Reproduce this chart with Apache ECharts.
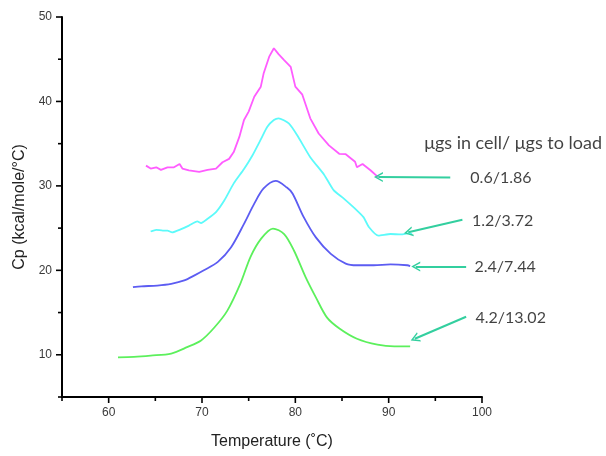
<!DOCTYPE html>
<html><head><meta charset="utf-8">
<script src="https://cdn.jsdelivr.net/npm/echarts@6/dist/echarts.min.js"></script>
<style>html,body{margin:0;padding:0;background:#fff}#c{width:606px;height:456px}</style>
</head><body><div id="c"></div>
<script>
// ---- data ----
const magentaT = [64.0, 64.5, 65.1, 65.6, 66.3, 67.0, 67.6, 67.9, 68.6, 69.7, 70.6, 71.5, 72.2, 72.9, 73.4, 74.0, 74.5, 75.0, 75.6, 76.3, 76.6, 77.2, 77.7, 78.2, 78.8, 79.5, 80.0, 80.75, 81.6, 82.5, 83.6, 84.7, 85.4, 86.4, 86.6, 87.2, 88.05, 88.9];
const magentaV = [32.4, 32.05, 32.2, 31.9, 32.2, 32.2, 32.6, 32.05, 31.85, 31.65, 31.9, 32.05, 32.8, 33.2, 34.0, 35.8, 37.8, 38.8, 40.55, 41.75, 43.3, 45.3, 46.3, 45.6, 44.9, 44.1, 41.75, 40.8, 38.0, 36.2, 34.8, 33.8, 33.75, 32.85, 32.2, 32.6, 31.85, 31.0];
const cyanT = [64.5, 65.1, 65.8, 66.3, 66.8, 67.7, 68.6, 69.5, 69.9, 70.6, 71.5, 72.4, 73.4, 74.5, 75.4, 76.3, 77.0, 77.7, 78.2, 79.3, 80.2, 81.6, 83.1, 84.1, 85.2, 86.4, 87.3, 87.9, 88.9, 90.2, 91.3, 92.2, 92.5];
const cyanV = [24.6, 24.8, 24.7, 24.7, 24.5, 24.85, 25.3, 25.8, 25.6, 26.1, 26.9, 28.3, 30.3, 32.0, 33.6, 35.5, 37.0, 37.8, 38.0, 37.4, 36.0, 33.4, 31.3, 29.5, 28.5, 27.3, 26.3, 25.1, 24.1, 24.3, 24.25, 24.4, 24.3];
const blueT = [62.6, 63.5, 65.2, 66.7, 68.1, 69.2, 70.2, 71.7, 73.1, 74.5, 75.6, 76.6, 77.9, 79.1, 79.7, 80.9, 82.2, 83.8, 85.4, 86.6, 88.4, 90.2, 92.0, 92.3];
const blueV = [18.0, 18.1, 18.2, 18.4, 18.8, 19.4, 20.0, 21.0, 22.7, 25.5, 27.9, 29.7, 30.6, 29.8, 29.1, 26.3, 23.9, 21.95, 20.8, 20.6, 20.6, 20.7, 20.6, 20.5];
const greenT = [61.0, 62.7, 64.5, 66.7, 68.4, 69.9, 71.3, 72.7, 74.1, 75.2, 76.3, 77.6, 78.8, 79.85, 81.1, 82.2, 83.4, 84.8, 86.6, 88.8, 90.6, 92.3];
const greenV = [9.7, 9.75, 9.9, 10.15, 10.9, 11.7, 13.2, 15.2, 18.4, 21.6, 23.7, 24.95, 24.3, 22.35, 19.2, 16.8, 14.4, 13.05, 11.9, 11.2, 11.0, 11.0];

const seriesLabels = ['0.6/1.86', '1.2/3.72', '2.4/7.44', '4.2/13.02'];
const headerText = 'μgs in cell/ μgs to load';
const xMajorTicks = [60, 70, 80, 90, 100];
const xMinorTicks = [55, 65, 75, 85, 95];
const yMajorTicks = [10, 20, 30, 40, 50];
const yMinorTicks = [5, 15, 25, 35, 45];

// ---- annotation layout (data coordinates) ----
const labelAnchors = [[98.75, 30.9], [98.93, 25.9], [99.2, 20.4], [99.3, 14.4]];
const headerAnchor = [93.8, 35.06];
const arrows = [
  [[96.6, 31.0], [88.9, 31.05]],
  [[97.9, 26.0], [92.1, 24.5]],
  [[98.3, 20.45], [92.9, 20.45]],
  [[98.3, 14.5], [92.8, 11.9]]
];

const X_MIN = 55, X_MAX = 100, Y_MIN = 5, Y_MAX = 50;
const zip = (a, b) => a.map((v, i) => [v, b[i]]);
const AXIS_FONT = 'Liberation Sans, Arial, sans-serif';
const NOTE_FONT = 'Lato, Open Sans, sans-serif';
const arrowColor = '#33cf9f';
const chevron = 'path://M0,10 L5,0 L10,10 L8.4,10 L5,3.2 L1.6,10 Z';
const MAJOR_LEN = 5, MINOR_LEN = 3;

function curve(name, t, v, color, smooth) {
  return {
    name, type: 'line', data: zip(t, v), showSymbol: false, smooth,
    lineStyle: { color, width: 1.8 }, xAxisIndex: 0, yAxisIndex: 0, z: 3
  };
}

const isMajor = (list) => (v) => (list.indexOf(Math.round(v)) >= 0 ? String(Math.round(v)) : '');

// tick marks: [x, y, orientation(0 = x-axis, 1 = y-axis), major(1)/minor(0)]
const tickData = []
  .concat(xMajorTicks.map(v => [v, Y_MIN, 0, 1]))
  .concat(xMinorTicks.map(v => [v, Y_MIN, 0, 0]))
  .concat(yMajorTicks.map(v => [X_MIN, v, 1, 1]))
  .concat(yMinorTicks.map(v => [X_MIN, v, 1, 0]));

const chart = echarts.init(document.getElementById('c'), null, { renderer: 'canvas' });
const option = {
  animation: false,
  grid: { left: 62, right: 124, top: 17, bottom: 59 },
  xAxis: [{
    type: 'value', min: X_MIN, max: X_MAX, interval: 5, position: 'bottom',
    name: 'Temperature (˚C)', nameLocation: 'middle', nameGap: 37,
    nameTextStyle: { fontFamily: AXIS_FONT, fontSize: 16, color: '#222' },
    axisLine: { show: true, onZero: false, lineStyle: { color: '#000', width: 2 } },
    axisTick: { show: false },
    axisLabel: { show: true, formatter: isMajor(xMajorTicks), margin: 10, fontFamily: AXIS_FONT, fontSize: 12, color: '#3a3a3a' },
    splitLine: { show: false }
  }],
  yAxis: [{
    type: 'value', min: Y_MIN, max: Y_MAX, interval: 5, position: 'left',
    name: 'Cp (kcal/mole/°C)', nameLocation: 'middle', nameGap: 33,
    nameTextStyle: { fontFamily: AXIS_FONT, fontSize: 16, color: '#222' },
    axisLine: { show: true, onZero: false, lineStyle: { color: '#000', width: 2 } },
    axisTick: { show: false },
    axisLabel: { show: true, formatter: isMajor(yMajorTicks), margin: 10, fontFamily: AXIS_FONT, fontSize: 12, color: '#3a3a3a' },
    splitLine: { show: false }
  }],
  series: [
    curve('0.6/1.86', magentaT, magentaV, '#ff5cff', false),
    curve('1.2/3.72', cyanT, cyanV, '#5cfafa', 0.2),
    curve('2.4/7.44', blueT, blueV, '#5c5cf2', 0.3),
    curve('4.2/13.02', greenT, greenV, '#5cf05c', 0.3),
    {
      type: 'custom', xAxisIndex: 0, yAxisIndex: 0, silent: true, clip: false, z: 6,
      data: tickData,
      renderItem: function (params, api) {
        const p = api.coord([api.value(0), api.value(1)]);
        const len = api.value(3) ? MAJOR_LEN : MINOR_LEN;
        const horiz = api.value(2) === 1;
        const shape = horiz
          ? { x1: p[0] - len - 1, y1: p[1], x2: p[0], y2: p[1] }
          : { x1: p[0], y1: p[1], x2: p[0], y2: p[1] + len + 1 };
        return { type: 'line', shape, style: { stroke: '#000', lineWidth: 1.6 } };
      }
    },
    {
      type: 'scatter', xAxisIndex: 0, yAxisIndex: 0, symbolSize: 0, silent: true, z: 5,
      data: labelAnchors.map((p, i) => ({ value: p, name: seriesLabels[i] }))
        .concat([{ value: headerAnchor, name: headerText, label: { fontSize: 18 } }]),
      label: {
        show: true, position: 'right', distance: 0, formatter: p => p.name,
        fontFamily: NOTE_FONT, fontSize: 16, color: '#111'
      },
      markLine: {
        silent: true, animation: false,
        symbol: ['none', chevron], symbolSize: [10, 9],
        lineStyle: { color: arrowColor, width: 2, type: 'solid' },
        itemStyle: { color: arrowColor },
        label: { show: false },
        data: arrows.map(a => [{ coord: a[0] }, { coord: a[1] }])
      }
    }
  ]
};
chart.setOption(option);
</script></body></html>
